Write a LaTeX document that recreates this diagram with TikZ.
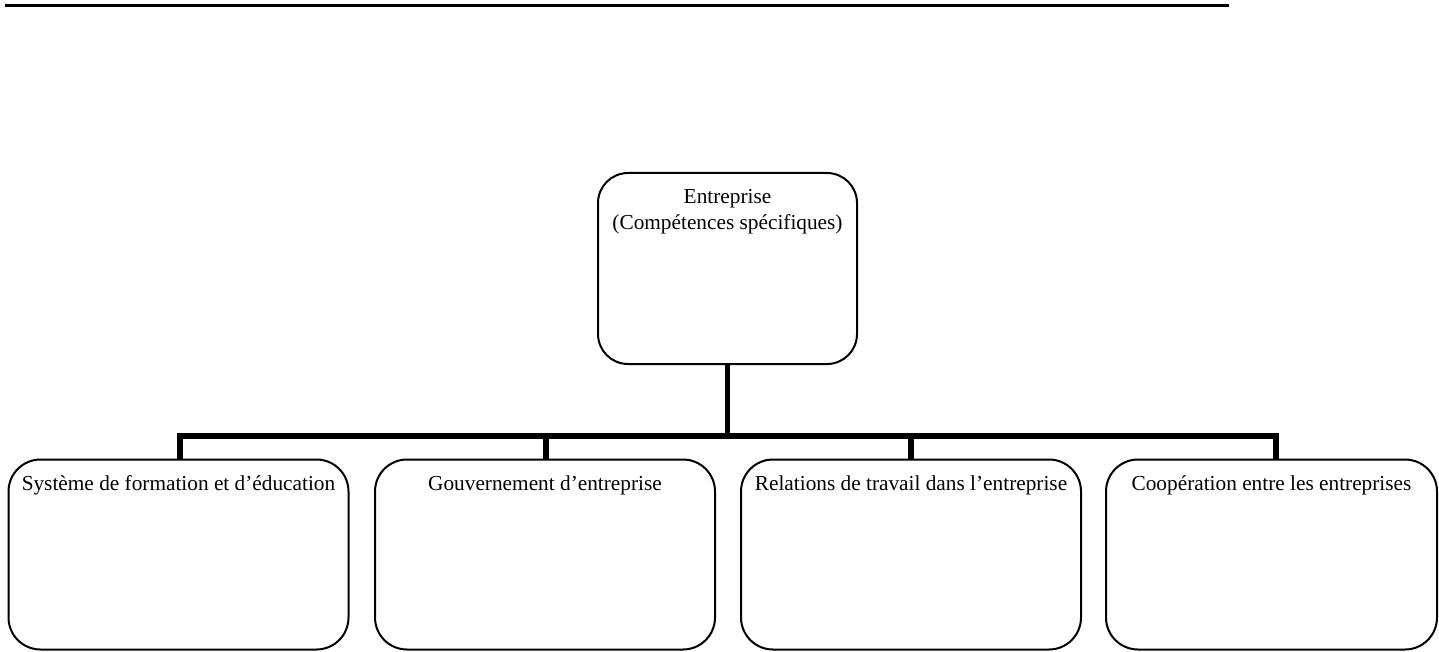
\documentclass[tikz,border=0pt]{standalone}
\usepackage{fontspec}
\setmainfont{Liberation Serif}
\usetikzlibrary{positioning}

\begin{document}
\begin{tikzpicture}[
  x=1pt, y=-1pt,
  every node/.style={font=\fontsize{21.3}{26}\selectfont},
  box/.style={draw, line width=2pt, rounded corners=32pt, inner xsep=0pt, inner ysep=0pt,
    minimum width=340pt, text height=30.5pt, text depth=159.5pt},
  topbox/.style={draw, line width=2pt, rounded corners=30pt, inner xsep=0pt, inner ysep=0pt,
    minimum width=259pt, align=center, text height=57pt, text depth=134pt},
  conn/.style={line width=5.5pt},
  rule/.style={line width=2.5pt}
]
\useasboundingbox (0,0) rectangle (1439,652);
\draw[rule] (5,5.7) -- (1229,5.7);
\node[topbox] (top) at (727.5,268.5) {Entreprise\\(Compétences spécifiques)};
\node[box] (b1) at (178.5,554.5) {Système de formation et d’éducation};
\node[box] (b2) at (545,554.5) {Gouvernement d’entreprise};
\node[box] (b3) at (911,554.5) {Relations de travail dans l’entreprise};
\node[box, minimum width=331pt] (b4) at (1271.5,554.5) {Coopération entre les entreprises};
\coordinate (bar) at (727.5,436);
\draw[conn] (top.south) -- (bar);
\draw[conn] (bar) -| ([xshift=1.5pt]b1.north);
\draw[conn] (bar) -| ([xshift=1pt]b2.north);
\draw[conn] (bar) -| (b3.north);
\draw[conn] (bar) -| ([xshift=4.5pt]b4.north);
\end{tikzpicture}
\end{document}
